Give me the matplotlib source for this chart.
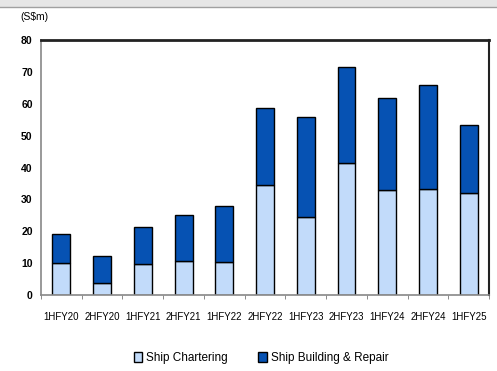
import numpy as np
import matplotlib
matplotlib.use('Agg')
import matplotlib.pyplot as plt
from matplotlib.patches import Rectangle

# half-year periods and segment revenue (S$m)
periods = ['1HFY20', '2HFY20', '1HFY21', '2HFY21', '1HFY22', '2HFY22',
           '1HFY23', '2HFY23', '1HFY24', '2HFY24', '1HFY25']
chartering = [10.0, 3.7, 9.7, 10.6, 10.4, 34.4, 24.5, 41.5, 33.0, 33.2, 32.0]
building = [9.0, 8.6, 11.6, 14.4, 17.4, 24.4, 31.5, 30.1, 28.7, 32.8, 21.2]
yticks = [0, 10, 20, 30, 40, 50, 60, 70, 80]

light_blue = '#c2dbfa'
dark_blue = '#0652b3'
font = ['Liberation Sans', 'DejaVu Sans']

fig = plt.figure(figsize=(4.97, 3.71), dpi=100)
ax = fig.add_axes([0.0825, 0.2049, 0.9015, 0.6871])

x = np.arange(len(periods))
ax.bar(x, chartering, width=0.44, color=light_blue, edgecolor='black',
       linewidth=1.0, label='Ship Chartering')
ax.bar(x, building, width=0.44, bottom=chartering, color=dark_blue,
       edgecolor='black', linewidth=1.0, label='Ship Building & Repair')

ax.set_xlim(-0.5, len(periods) - 0.5)
ax.set_ylim(0, 80)
ax.set_yticks(yticks)
ax.set_yticklabels([str(v) for v in yticks], family=font, fontsize=7.5,
                   fontweight='bold')
ax.tick_params(axis='y', length=0, pad=6)

# category labels without ticks, tick marks between categories
ax.set_xticks(x)
ax.set_xticklabels(periods, family=font, fontsize=7)
ax.tick_params(axis='x', length=0, pad=12)
ax.set_xticks(np.arange(len(periods) + 1) - 0.5, minor=True)
ax.tick_params(axis='x', which='minor', length=3, color='#777777', direction='out')

for side in ['left', 'bottom']:
    ax.spines[side].set_color('#888888')
    ax.spines[side].set_linewidth(1.2)
ax.spines['top'].set_color('#222222')
ax.spines['top'].set_linewidth(2.0)
ax.spines['right'].set_color('#222222')
ax.spines['right'].set_linewidth(1.5)

fig.text(0.042, 0.955, '(S\\$m)', family=font, fontsize=7.5, va='center', ha='left')

leg = fig.legend(loc='center', bbox_to_anchor=(0.525, 0.035), ncol=2,
                 frameon=False, prop={'family': font, 'size': 8.5},
                 handlelength=0.75, handleheight=0.9, handletextpad=0.3,
                 columnspacing=2.6)

# grey header strip at the very top
fig.patches.append(Rectangle((0, 0.981), 1, 0.019, transform=fig.transFigure,
                             facecolor='#e6e6e6', edgecolor='none'))
fig.lines.append(plt.Line2D([0, 1], [0.981, 0.981], transform=fig.transFigure,
                            color='#a0a0a0', linewidth=1.0))

fig.savefig('out.png', dpi=100)
